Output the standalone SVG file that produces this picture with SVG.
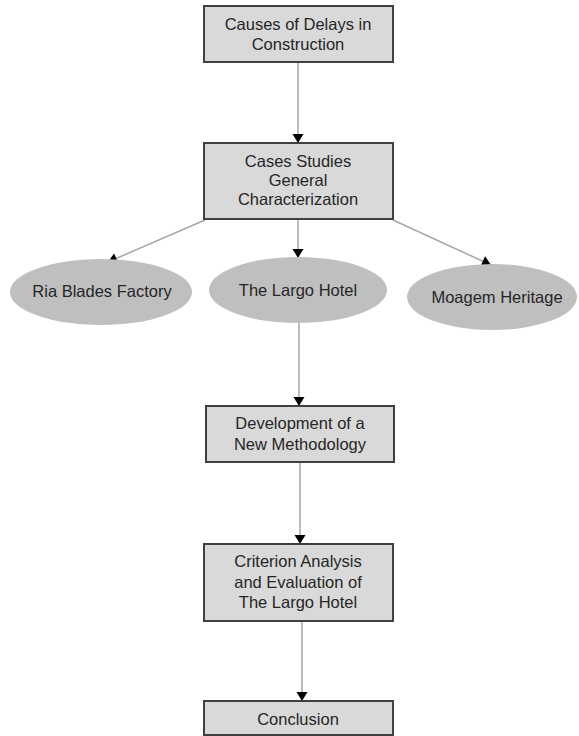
<svg xmlns="http://www.w3.org/2000/svg" width="579" height="736" viewBox="0 0 579 736">
<style>
.box{fill:#d9d9d9;stroke:#404040;stroke-width:2}
.ell{fill:#bfbfbf;stroke:none}
.t{font-family:"Liberation Sans",Arial,sans-serif;font-size:16.5px;fill:#262626;text-anchor:middle}
.c{stroke:#a6a6a6;stroke-width:1.5;fill:none;marker-end:url(#ah)}
</style>
<defs>
<marker id="ah" markerUnits="userSpaceOnUse" markerWidth="12" markerHeight="12" viewBox="-10 -6 12 12" refX="0" refY="0" orient="auto">
<path d="M0,0 L-9,-5.5 L-9,5.5 Z" fill="#000"/>
</marker>
</defs>
<rect width="579" height="736" fill="#fff"/>
<g id="connectors">
<line class="c" x1="298" y1="62" x2="298" y2="143"/>
<line class="c" x1="298" y1="219" x2="298" y2="258"/>
<line class="c" x1="205" y1="220" x2="108" y2="262"/>
<line class="c" x1="393" y1="220" x2="491" y2="265"/>
<line class="c" x1="299" y1="323" x2="299" y2="406"/>
<line class="c" x1="300" y1="462" x2="300" y2="544"/>
<line class="c" x1="302" y1="621" x2="302" y2="701"/>
</g>
<g id="n1"><rect class="box" x="204" y="6" width="189" height="56"/>
<text class="t" x="298" y="30">Causes of Delays in</text><text class="t" x="298" y="50">Construction</text></g>
<g id="n2"><rect class="box" x="204" y="143" width="189" height="76"/>
<text class="t" x="298" y="167">Cases Studies</text><text class="t" x="298" y="186">General</text><text class="t" x="298" y="205">Characterization</text></g>
<g id="n3"><ellipse class="ell" cx="101" cy="292" rx="91" ry="33"/><text class="t" x="102" y="297">Ria Blades Factory</text></g>
<g id="n4"><ellipse class="ell" cx="298" cy="290" rx="89" ry="33"/><text class="t" x="298" y="296">The Largo Hotel</text></g>
<g id="n5"><ellipse class="ell" cx="492" cy="297" rx="85" ry="33"/><text class="t" x="497" y="303">Moagem Heritage</text></g>
<g id="n6"><rect class="box" x="206" y="406" width="188" height="56"/>
<text class="t" x="300" y="429">Development of a</text><text class="t" x="300" y="450">New Methodology</text></g>
<g id="n7"><rect class="box" x="204" y="544" width="189" height="77"/>
<text class="t" x="298" y="567">Criterion Analysis</text><text class="t" x="298" y="588">and Evaluation of</text><text class="t" x="298" y="608">The Largo Hotel</text></g>
<g id="n8"><rect class="box" x="204" y="701" width="189" height="34"/>
<text class="t" x="298" y="725">Conclusion</text></g>
</svg>
